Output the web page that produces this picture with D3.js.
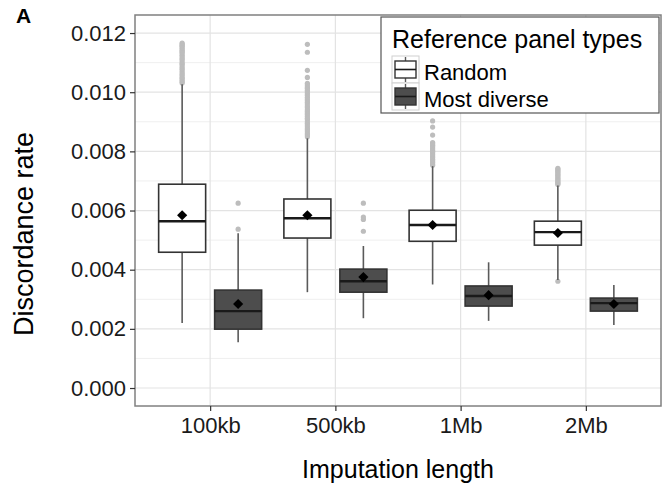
<!DOCTYPE html>
<html>
<head>
<meta charset="utf-8">
<script src="https://cdn.jsdelivr.net/npm/d3@7"></script>
<style>
  body { margin: 0; background: #fff; }
  svg { display: block; font-family: "Liberation Sans", Arial, sans-serif; }
</style>
</head>
<body>
<svg width="662" height="486"></svg>
<script>
const categories = ["100kb", "500kb", "1Mb", "2Mb"];
const panelTypes = ["Random", "Most diverse"];
const yTicks = [0, 0.002, 0.004, 0.006, 0.008, 0.010, 0.012];
const yMinor = [0.001, 0.003, 0.005, 0.007, 0.009, 0.011];

// Random reference panels
const randomLow = [0.00220, 0.00324, 0.00350, 0.00365];
const randomQ1 = [0.00459, 0.00507, 0.00496, 0.00483];
const randomMedian = [0.00564, 0.00574, 0.00551, 0.00527];
const randomQ3 = [0.00689, 0.00639, 0.00601, 0.00564];
const randomHigh = [0.01027, 0.00844, 0.00750, 0.00685];
const randomMean = [0.00584, 0.00584, 0.00551, 0.00524];
const randomOutliers = [
    [0.01166, 0.01163, 0.01159, 0.01155, 0.01150, 0.01146, 0.01141, 0.01137, 0.01133, 0.01127,
     0.01122, 0.01116, 0.01111, 0.01104, 0.01097, 0.01093, 0.01086, 0.01080, 0.01075, 0.01068,
     0.01062, 0.01057, 0.01050, 0.01046, 0.01040, 0.01035, 0.01031],
    [0.01162, 0.01135, 0.01074, 0.01050, 0.01030, 0.01024, 0.01018, 0.01013, 0.01007, 0.01001,
     0.00995, 0.00990, 0.00983, 0.00977, 0.00972, 0.00966, 0.00960, 0.00953, 0.00948, 0.00941,
     0.00936, 0.00930, 0.00925, 0.00918, 0.00912, 0.00907, 0.00900, 0.00895, 0.00889, 0.00883,
     0.00877, 0.00872, 0.00866, 0.00860, 0.00855, 0.00849],
    [0.00903, 0.00882, 0.00855, 0.00830, 0.00826, 0.00821, 0.00816, 0.00810, 0.00805, 0.00800,
     0.00795, 0.00789, 0.00784, 0.00779, 0.00773, 0.00768, 0.00763, 0.00757, 0.00753],
    [0.00743, 0.00739, 0.00735, 0.00731, 0.00727, 0.00722, 0.00718, 0.00713, 0.00709, 0.00704,
     0.00700, 0.00696, 0.00691, 0.00688, 0.00361]
];

// Most diverse reference panels
const diverseLow = [0.00155, 0.00236, 0.00227, 0.00213];
const diverseQ1 = [0.00199, 0.00324, 0.00277, 0.00260];
const diverseMedian = [0.00260, 0.00361, 0.00311, 0.00287];
const diverseQ3 = [0.00331, 0.00402, 0.00345, 0.00304];
const diverseHigh = [0.00523, 0.00480, 0.00425, 0.00348];
const diverseMean = [0.00284, 0.00375, 0.00314, 0.00284];
const diverseOutliers = [
    [0.00625, 0.00537],
    [0.00625, 0.00578, 0.00570, 0.00530],
    [],
    []
];

const fills = {"Random": "#ffffff", "Most diverse": "#4d4d4d"};
const offsets = {"Random": -28, "Most diverse": 28};
const boxW = 47;

const panel = {left: 135, right: 661, top: 15, bottom: 406};
const svg = d3.select("svg");

const x = d3.scalePoint()
    .domain(categories)
    .range([panel.left, panel.right])
    .padding(0.6);

const y = d3.scaleLinear()
    .domain([-0.000608, 0.01261])
    .range([panel.bottom, panel.top]);

function series(type, low, q1, med, q3, high, mean, outs) {
    return categories.map(function (c, i) {
        return {cat: c, type: type, low: low[i], q1: q1[i], med: med[i],
            q3: q3[i], high: high[i], mean: mean[i], outs: outs[i]};
    });
}
const boxes = series("Random", randomLow, randomQ1, randomMedian, randomQ3, randomHigh, randomMean, randomOutliers)
    .concat(series("Most diverse", diverseLow, diverseQ1, diverseMedian, diverseQ3, diverseHigh, diverseMean, diverseOutliers));

// grid
const grid = svg.append("g");
grid.selectAll(".minor").data(yMinor).join("line")
    .attr("x1", panel.left).attr("x2", panel.right)
    .attr("y1", d => y(d)).attr("y2", d => y(d))
    .attr("stroke", "#efefef").attr("stroke-width", 1);
grid.selectAll(".major").data(yTicks).join("line")
    .attr("x1", panel.left).attr("x2", panel.right)
    .attr("y1", d => y(d)).attr("y2", d => y(d))
    .attr("stroke", "#e3e3e3").attr("stroke-width", 1.2);
grid.selectAll(".vmajor").data(categories).join("line")
    .attr("x1", d => x(d)).attr("x2", d => x(d))
    .attr("y1", panel.top).attr("y2", panel.bottom)
    .attr("stroke", "#e3e3e3").attr("stroke-width", 1.2);

// boxplots
const g = svg.append("g").selectAll("g").data(boxes).join("g")
    .attr("transform", d => `translate(${x(d.cat) + offsets[d.type]},0)`);

g.selectAll("circle").data(d => d.outs).join("circle")
    .attr("cx", 0).attr("cy", d => y(d)).attr("r", 2.6)
    .attr("fill", "#bdbdbd");

g.append("line")
    .attr("y1", d => y(d.high)).attr("y2", d => y(d.q3))
    .attr("stroke", "#5a5a5a").attr("stroke-width", 1.6);
g.append("line")
    .attr("y1", d => y(d.low)).attr("y2", d => y(d.q1))
    .attr("stroke", "#5a5a5a").attr("stroke-width", 1.6);

g.append("rect")
    .attr("x", -boxW / 2).attr("width", boxW)
    .attr("y", d => y(d.q3)).attr("height", d => y(d.q1) - y(d.q3))
    .attr("fill", d => fills[d.type])
    .attr("stroke", "#333").attr("stroke-width", 1.6);

g.append("line")
    .attr("x1", -boxW / 2).attr("x2", boxW / 2)
    .attr("y1", d => y(d.med)).attr("y2", d => y(d.med))
    .attr("stroke", "#1a1a1a").attr("stroke-width", 2.4);

g.append("path")
    .attr("d", d3.symbol(d3.symbolSquare).size(52))
    .attr("transform", d => `translate(0,${y(d.mean)}) rotate(45)`)
    .attr("fill", "#000");

// panel border
svg.append("rect")
    .attr("x", panel.left).attr("y", panel.top)
    .attr("width", panel.right - panel.left).attr("height", panel.bottom - panel.top)
    .attr("fill", "none").attr("stroke", "#808080").attr("stroke-width", 1.5);

// axes
const yAxis = svg.append("g")
    .attr("transform", `translate(${panel.left},0)`)
    .call(d3.axisLeft(y).tickValues(yTicks).tickFormat(d3.format(".3f")).tickSize(5).tickPadding(4));
const xAxis = svg.append("g")
    .attr("transform", `translate(0,${panel.bottom})`)
    .call(d3.axisBottom(x).tickSize(5).tickPadding(6));
[yAxis, xAxis].forEach(function (a) {
    a.select(".domain").remove();
    a.selectAll(".tick line").attr("stroke", "#333").attr("stroke-width", 1.2);
    a.selectAll(".tick text").attr("fill", "#1a1a1a")
        .style("font-size", "22px").style("font-family", "Liberation Sans, Arial, sans-serif");
});

svg.append("text")
    .attr("x", (panel.left + panel.right) / 2).attr("y", 478)
    .attr("text-anchor", "middle").style("font-size", "25px").attr("fill", "#000")
    .text("Imputation length");

svg.append("text")
    .attr("transform", "translate(33,234) rotate(-90)")
    .attr("text-anchor", "middle").style("font-size", "27px").attr("fill", "#000")
    .text("Discordance rate");

svg.append("text")
    .attr("x", 16).attr("y", 23)
    .style("font-size", "21px").style("font-weight", "bold").attr("fill", "#000")
    .text("A");

// legend
const legend = svg.append("g");
legend.append("rect")
    .attr("x", 381).attr("y", 17).attr("width", 278).attr("height", 96)
    .attr("fill", "#fff").attr("stroke", "#555").attr("stroke-width", 1.2);
legend.append("text")
    .attr("x", 392).attr("y", 48)
    .style("font-size", "25px").attr("fill", "#000")
    .text("Reference panel types");

const keys = legend.selectAll(".key").data(panelTypes).join("g")
    .attr("transform", (d, i) => `translate(392,${56 + i * 27})`);
keys.append("rect")
    .attr("width", 27).attr("height", 27)
    .attr("fill", "#fff").attr("stroke", "#d0d0d0").attr("stroke-width", 1);
keys.append("line")
    .attr("x1", 13.5).attr("x2", 13.5).attr("y1", 1).attr("y2", 26)
    .attr("stroke", "#5a5a5a").attr("stroke-width", 1.4);
keys.append("rect")
    .attr("x", 3).attr("y", 5).attr("width", 21).attr("height", 17)
    .attr("fill", d => fills[d]).attr("stroke", "#333").attr("stroke-width", 1.4);
keys.append("line")
    .attr("x1", 3).attr("x2", 24).attr("y1", 13.5).attr("y2", 13.5)
    .attr("stroke", "#1a1a1a").attr("stroke-width", 1.6);
keys.append("text")
    .attr("x", 32).attr("y", 24)
    .style("font-size", "22px").attr("fill", "#000")
    .text(d => d);
</script>
</body>
</html>
